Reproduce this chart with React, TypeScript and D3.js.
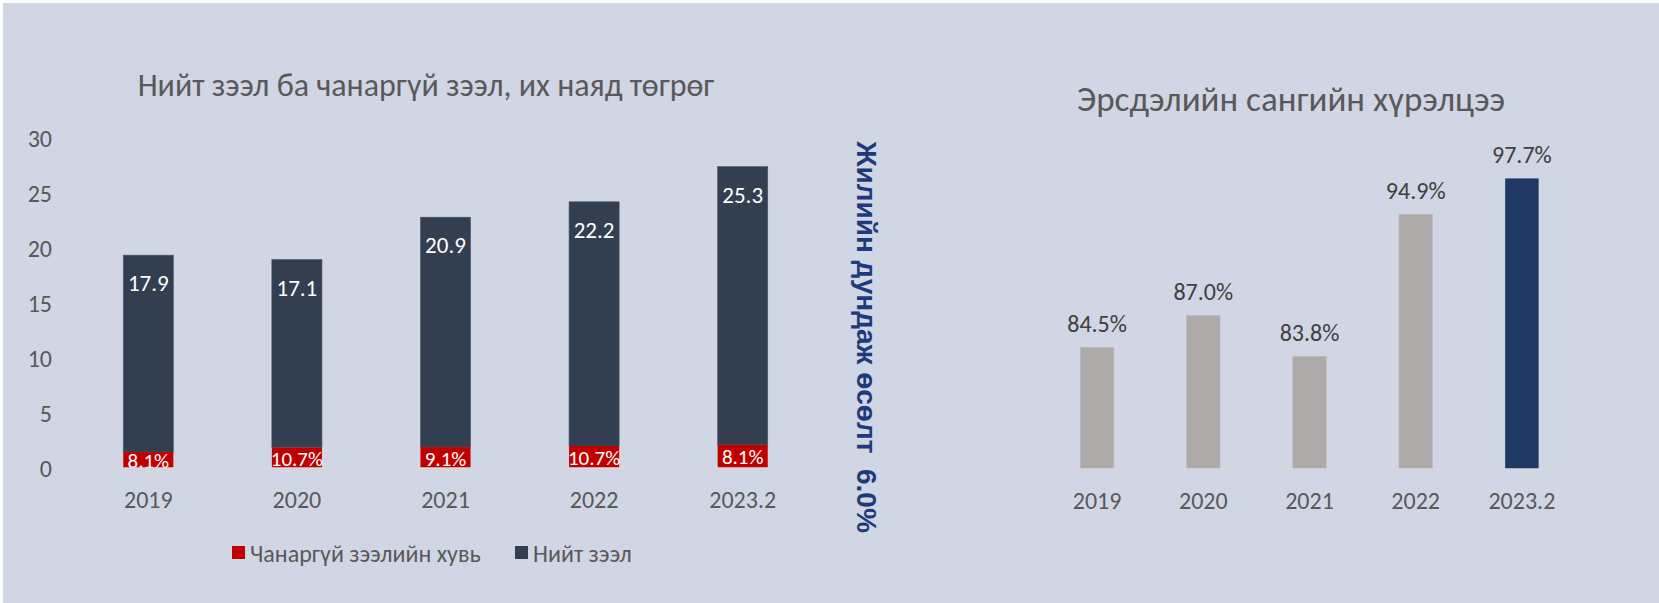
import * as d3 from "d3";

// shared categories
const categories = ["2019", "2020", "2021", "2022", "2023.2"];

// left chart: total loans (trillion MNT) and the NPL segment
const totalLoans = [17.9, 17.1, 20.9, 22.2, 25.3];
const nplAmount = [1.45, 1.85, 1.9, 2.0, 2.1];
const nplShare = [8.1, 10.7, 9.1, 10.7, 8.1];
const leftTicks = [0, 5, 10, 15, 20, 25, 30];

// right chart: risk fund coverage, %
const coverage = [84.5, 87.0, 83.8, 94.9, 97.7];

const growthNote = "Жилийн дундаж өсөлт  6.0%";

const W = 1659;
const H = 603;
const BG = "#D0D6E3";
const TXT = "#595959";
const FONT = "Calibri, Carlito, Lato, 'Open Sans', sans-serif";

export default function App() {
  const xL = d3
    .scaleBand<string>()
    .domain(categories)
    .range([74, 817])
    .paddingInner(0.663)
    .paddingOuter(0.3315);
  const yL = d3.scaleLinear().domain([0, 30]).range([468, 138]);

  const xR = d3
    .scaleBand<string>()
    .domain(categories)
    .range([1044, 1575])
    .paddingInner(0.685)
    .paddingOuter(0.3425);
  const yR = d3.scaleLinear().domain([75, 100]).range([469, 149]);

  const fmt = d3.format(".1f");

  return (
    <svg
      width={W}
      height={H}
      style={{ position: "absolute", left: 0, top: 0, display: "block" }}
      fontFamily={FONT}
    >
      <rect x={0} y={0} width={W} height={H} fill="#ffffff" />
      <rect x={3} y={3} width={W - 3} height={H - 3} fill={BG} />

      {/* left chart */}
      <text x={426} y={85} textAnchor="middle" dominantBaseline="central" fontSize={32} fill={TXT}>
        Нийт зээл ба чанаргүй зээл, их наяд төгрөг
      </text>
      {leftTicks.map((t) => (
        <text key={t} x={52} y={yL(t)} textAnchor="end" dominantBaseline="central" fontSize={24} fill={TXT}>
          {t}
        </text>
      ))}
      {categories.map((c, i) => {
        const x = xL(c)!;
        const bw = xL.bandwidth();
        const yNpl = yL(nplAmount[i]);
        const yTop = yL(nplAmount[i] + totalLoans[i]);
        return (
          <g key={c}>
            <rect x={x} y={yTop} width={bw} height={yNpl - yTop} fill="#333F50" stroke="#4a5568" strokeWidth={0.6} />
            <rect x={x} y={yNpl} width={bw} height={yL(0) - yNpl} fill="#C00000" />
            <text x={x + bw / 2} y={yTop + 28} textAnchor="middle" dominantBaseline="central" fontSize={23} fill="#fff">
              {fmt(totalLoans[i])}
            </text>
            <text
              x={x + bw / 2}
              y={(yNpl + yL(0)) / 2 + 1}
              textAnchor="middle"
              dominantBaseline="central"
              fontSize={21}
              fill="#fff"
            >
              {fmt(nplShare[i]) + "%"}
            </text>
            <text x={x + bw / 2} y={499} textAnchor="middle" dominantBaseline="central" fontSize={24} fill={TXT}>
              {c}
            </text>
          </g>
        );
      })}
      <line x1={74} x2={817} y1={yL(0)} y2={yL(0)} stroke="#D9D9D9" strokeWidth={1.5} />

      {/* legend */}
      <rect x={232} y={546} width={13} height={13} fill="#C00000" />
      <text x={250} y={553} dominantBaseline="central" fontSize={24} fill={TXT}>
        Чанаргүй зээлийн хувь
      </text>
      <rect x={515} y={546} width={13} height={13} fill="#333F50" />
      <text x={533} y={553} dominantBaseline="central" fontSize={24} fill={TXT}>
        Нийт зээл
      </text>

      {/* growth note */}
      <text
        transform="translate(866,337) rotate(90)"
        textAnchor="middle"
        dominantBaseline="central"
        fontFamily="'Liberation Sans', Arial, sans-serif"
        fontWeight="bold"
        fontSize={28}
        fill="#1F3A7C"
        style={{ whiteSpace: "pre" }}
      >
        {growthNote}
      </text>

      {/* right chart */}
      <text x={1291} y={99} textAnchor="middle" dominantBaseline="central" fontSize={35} fill={TXT}>
        Эрсдэлийн сангийн хүрэлцээ
      </text>
      {categories.map((c, i) => {
        const x = xR(c)!;
        const bw = xR.bandwidth();
        const y = yR(coverage[i]);
        const last = i === categories.length - 1;
        return (
          <g key={c}>
            <rect
              x={x}
              y={y}
              width={bw}
              height={yR(75) - y}
              fill={last ? "#1F3864" : "#AEAAAA"}
              stroke={last ? "none" : "#bdb9b9"}
              strokeWidth={0.6}
            />
            <text x={x + bw / 2} y={y - 24} textAnchor="middle" dominantBaseline="central" fontSize={24} fill="#404040">
              {fmt(coverage[i]) + "%"}
            </text>
            <text x={x + bw / 2} y={500} textAnchor="middle" dominantBaseline="central" fontSize={24} fill={TXT}>
              {c}
            </text>
          </g>
        );
      })}
      <line x1={1044} x2={1575} y1={yR(75)} y2={yR(75)} stroke="#D9D9D9" strokeWidth={1.5} />
    </svg>
  );
}
